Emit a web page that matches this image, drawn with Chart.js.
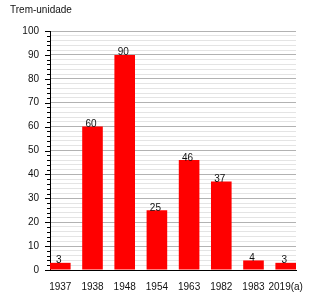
<!DOCTYPE html>
<html>
<head>
<meta charset="utf-8">
<script src="https://cdn.jsdelivr.net/npm/chart.js@4"></script>
<style>
 html, body { margin: 0; padding: 0; background: #fff; }
 #wrap { width: 325px; height: 300px; position: relative; }
</style>
</head>
<body>
<div id="wrap"><canvas id="chart"></canvas></div>
<script>
const categories = ['1937', '1938', '1948', '1954', '1963', '1982', '1983', '2019(a)'];
const units = [3, 60, 90, 25, 46, 37, 4, 3];
const yTicks = [0, 10, 20, 30, 40, 50, 60, 70, 80, 90, 100];
const axisTitle = 'Trem-unidade';

const FONT = '"Liberation Sans", Arial, sans-serif';

// title, small y tick marks and value labels
const extras = {
 id: 'extras',
 afterDraw(chart) {
  const ctx = chart.ctx;
  const y = chart.scales.y;
  const left = chart.chartArea.left;
  ctx.save();
  ctx.strokeStyle = '#000';
  ctx.lineWidth = 1;
  y.ticks.forEach(t => {
   const py = Math.round(y.getPixelForValue(t.value)) + 0.5;
   const len = t.value % 10 === 0 ? 5 : 3;
   ctx.beginPath();
   ctx.moveTo(left - len, py);
   ctx.lineTo(left, py);
   ctx.stroke();
  });

  ctx.fillStyle = '#111';
  ctx.font = '10px ' + FONT;
  ctx.textAlign = 'center';
  ctx.textBaseline = 'alphabetic';
  chart.getDatasetMeta(0).data.forEach((bar, i) => {
   ctx.fillText(String(units[i]), bar.x - 1.5, bar.y + 0.5);
  });

  ctx.textAlign = 'left';
  ctx.textBaseline = 'middle';
  ctx.fillText(axisTitle, 10, 10);
  ctx.restore();
 }
};

new Chart(document.getElementById('chart'), {
 type: 'bar',
 data: {
  datasets: [{
   data: units.map((v, i) => ({ x: i, y: v })),
   backgroundColor: '#ff0000',
   borderWidth: 0,
   categoryPercentage: 1,
   barPercentage: 0.64
  }]
 },
 options: {
  responsive: true,
  maintainAspectRatio: false,
  animation: false,
  layout: { padding: { left: 0, right: 29, top: 31, bottom: 0 } },
  plugins: { legend: { display: false }, tooltip: { enabled: false } },
  scales: {
   x: {
    type: 'linear',
    offset: false,
    min: -0.32,
    max: 7.32,
    afterBuildTicks: s => { s.ticks = categories.map((_, i) => ({ value: i })); },
    afterFit: s => { s.height = 30; },
    grid: { display: false, offset: false },
    border: { display: true, color: '#000', width: 1 },
    ticks: {
     autoSkip: false,
     maxRotation: 0,
     padding: 3,
     color: '#111',
     font: { family: FONT, size: 10 },
     callback: v => categories[v]
    }
   },
   y: {
    min: 0,
    max: 100,
    afterBuildTicks: s => {
     const t = [];
     for (let v = 0; v <= 100; v += 2) t.push({ value: v });
     s.ticks = t;
    },
    afterFit: s => { s.width = 50; },
    grid: {
     drawTicks: false,
     color: c => (c.tick && c.tick.value % 10 === 0) ? '#b2b2b2' : '#e4e4e4'
    },
    border: { display: true, color: '#000', width: 1 },
    ticks: {
     autoSkip: false,
     padding: 11,
     color: '#111',
     font: { family: FONT, size: 10 },
     callback: v => yTicks.includes(v) ? String(v) : ''
    }
   }
  }
 },
 plugins: [extras]
});
</script>
</body>
</html>
